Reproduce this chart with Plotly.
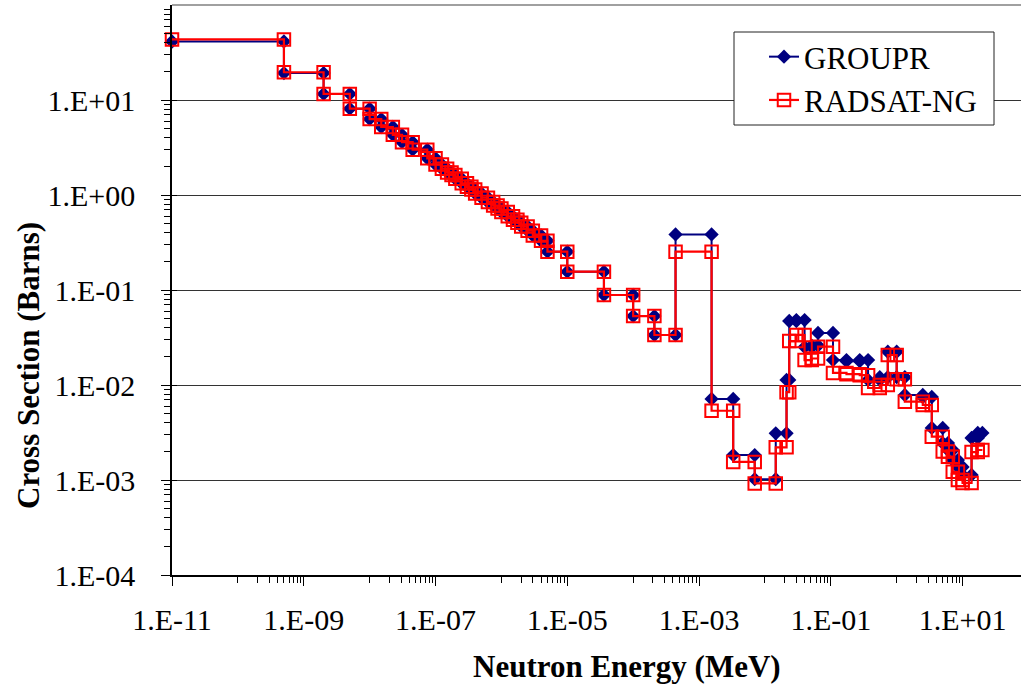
import plotly.graph_objects as go

# Energy group boundaries (MeV) shared by both processed libraries
energy_bounds = [
    1e-11, 5e-10, 2e-9, 5e-9, 1e-8, 1.5e-8, 2.25e-8, 3.1e-8, 4.5e-8, 7.5e-8,
    1e-7, 1.25e-7, 1.5e-7, 1.75e-7, 2e-7, 2.5e-7, 3e-7, 3.5e-7, 4e-7, 5e-7,
    6.25e-7, 7.5e-7, 8.75e-7, 1e-6, 1.25e-6, 1.5e-6, 1.75e-6, 2e-6, 2.5e-6,
    3e-6, 4e-6, 5e-6, 1e-5, 3.6e-5, 1e-4, 2.1e-4, 4.4e-4, 1.55e-3, 3.3e-3,
    7e-3, 1.46e-2, 2.13e-2, 2.34e-2, 3.0e-2, 4.0e-2, 5.15e-2, 6.4e-2, 0.108,
    0.173, 0.275, 0.368, 0.554, 0.733, 1.0, 1.33, 2.49, 3.41, 5.0, 6.0, 7.1,
    8.5, 10.0, 13.7, 17.0, 20.0,
]

# Group-averaged cross sections (barns), one value per group
groupr_xs = [
    41.3, 19.2, 11.6, 8.1, 6.3, 5.2, 4.3, 3.6, 3.0, 2.43,
    2.09, 1.89, 1.73, 1.62, 1.48, 1.33, 1.22, 1.14, 1.04, 0.935,
    0.844, 0.775, 0.721, 0.661, 0.597, 0.548, 0.509, 0.467, 0.421, 0.375,
    0.330, 0.253, 0.156, 0.0886, 0.0532, 0.0336, 0.385, 0.00713, 0.00183,
    0.00102, 0.0031, 0.0113, 0.0472, 0.0483, 0.0251, 0.026, 0.0353, 0.0183,
    0.0178, 0.0183, 0.0113, 0.0121, 0.0224, 0.0121, 0.00785, 0.00748,
    0.00353, 0.00245, 0.00207, 0.00162, 0.00137, 0.00113, 0.00277, 0.00313,
]

radsat_xs = [
    43.4, 19.6, 11.6, 8.1, 6.3, 5.2, 4.3, 3.6, 3.0, 2.43,
    2.09, 1.89, 1.73, 1.62, 1.48, 1.33, 1.22, 1.14, 1.04, 0.935,
    0.844, 0.775, 0.721, 0.661, 0.597, 0.548, 0.509, 0.467, 0.421, 0.375,
    0.330, 0.253, 0.156, 0.0886, 0.0532, 0.0336, 0.253, 0.00536, 0.00155,
    0.00092, 0.00221, 0.0084, 0.029, 0.0336, 0.0183, 0.019, 0.0253, 0.0134,
    0.013, 0.0127, 0.0093, 0.0100, 0.0207, 0.0115, 0.00667, 0.00616,
    0.00286, 0.00199, 0.00176, 0.00122, 0.00100, 0.00093, 0.00197, 0.00207,
]

x_tick_vals = [1e-11, 1e-9, 1e-7, 1e-5, 1e-3, 1e-1, 1e1]
x_tick_text = ["1.E-11", "1.E-09", "1.E-07", "1.E-05", "1.E-03", "1.E-01", "1.E+01"]
y_tick_vals = [1e-4, 1e-3, 1e-2, 1e-1, 1e0, 1e1]
y_tick_text = ["1.E-04", "1.E-03", "1.E-02", "1.E-01", "1.E+00", "1.E+01"]


def step_points(bounds, values):
    """Each group drawn flat from its lower to its upper boundary."""
    xs, ys = [], []
    for lo, hi, v in zip(bounds[:-1], bounds[1:], values):
        xs += [lo, hi]
        ys += [v, v]
    return xs, ys


gx, gy = step_points(energy_bounds, groupr_xs)
rx, ry = step_points(energy_bounds, radsat_xs)

# minor ticks: 1..9 within every other decade on x, 2..9 in every decade on y
x_minor = [m * 10.0 ** e for e in range(-10, 1, 2) for m in range(1, 10)]
y_minor = [m * 10.0 ** e for e in range(-4, 2) for m in range(2, 10)]

FONT = "Liberation Serif"

fig = go.Figure()
fig.add_trace(go.Scatter(
    x=gx, y=gy, name="GROUPR", mode="lines+markers",
    line=dict(color="#000080", width=2),
    marker=dict(symbol="diamond", size=11, color="#000080"),
    cliponaxis=False,
))
fig.add_trace(go.Scatter(
    x=rx, y=ry, name="RADSAT-NG", mode="lines+markers",
    line=dict(color="#FF0000", width=2.2),
    marker=dict(symbol="square-open", size=12.5, color="#FF0000",
                line=dict(width=2, color="#FF0000")),
    cliponaxis=False,
))

# plot area spans x pixels 172..1021 and y pixels 5..575
L, R, T, B = 172, 0, 5, 116
W, H = 1021, 691
pw, ph = W - L - R, H - T - B
decade = 65.88
log_x_range = [-11, -11 + pw / decade]


def px_x(px):
    return (px - L) / pw


def px_y(py):
    return (H - B - py) / ph


fig.update_layout(
    width=W, height=H,
    margin=dict(l=L, r=R, t=T, b=B, pad=0),
    paper_bgcolor="white", plot_bgcolor="white",
    font=dict(family=FONT, color="black", size=30),
    showlegend=True,
    legend=dict(
        x=px_x(764), y=px_y(30), xanchor="left", yanchor="top",
        bgcolor="rgba(0,0,0,0)", borderwidth=0,
        font=dict(family=FONT, size=31, color="black"),
        itemwidth=30, tracegroupgap=0,
    ),
    xaxis=dict(
        type="log", range=log_x_range,
        showgrid=False, zeroline=False,
        showline=True, linecolor="black", linewidth=1.5,
        tickmode="array", tickvals=x_tick_vals, ticktext=x_tick_text,
        ticks="outside", ticklen=9, tickwidth=1, tickcolor="black",
        ticklabelstandoff=8,
        tickfont=dict(family=FONT, size=30, color="black"),
        minor=dict(tickmode="array", tickvals=x_minor, ticks="outside",
                   ticklen=6, tickwidth=1, tickcolor="black", showgrid=False),
    ),
    yaxis=dict(
        type="log", range=[-4, 2],
        showgrid=True, gridcolor="#333333", gridwidth=1, zeroline=False,
        showline=True, linecolor="black", linewidth=1.5,
        tickmode="array", tickvals=y_tick_vals, ticktext=y_tick_text,
        ticks="outside", ticklen=9, tickwidth=1, tickcolor="black",
        ticklabelstandoff=20,
        tickfont=dict(family=FONT, size=30, color="black"),
        minor=dict(tickmode="array", tickvals=y_minor, ticks="outside",
                   ticklen=6, tickwidth=1, tickcolor="black", showgrid=False),
    ),
    # inward half of the crossing major ticks on the value axis
    yaxis2=dict(
        type="log", range=[-4, 2], overlaying="y", side="left",
        showgrid=False, zeroline=False, showline=False,
        tickmode="array", tickvals=y_tick_vals, showticklabels=False,
        ticks="inside", ticklen=5, tickwidth=1, tickcolor="black",
    ),
    shapes=[
        dict(type="line", xref="paper", yref="paper", x0=0, x1=1, y0=1, y1=1,
             line=dict(color="#808080", width=1.5), layer="above"),
        dict(type="rect", xref="paper", yref="paper",
             x0=px_x(734), x1=px_x(994), y0=px_y(125), y1=px_y(32),
             fillcolor="white", line=dict(color="#222222", width=1), layer="above"),
    ],
    annotations=[
        dict(text="<b>Cross Section (Barns)</b>", textangle=-90,
             xref="paper", yref="paper", x=px_x(28), y=px_y(366),
             xanchor="center", yanchor="middle", showarrow=False,
             font=dict(family=FONT, size=31, color="black")),
        dict(text="<b>Neutron Energy (MeV)</b>",
             xref="paper", yref="paper", x=px_x(627), y=px_y(666),
             xanchor="center", yanchor="middle", showarrow=False,
             font=dict(family=FONT, size=31, color="black")),
    ],
)

# invisible trace that keeps the overlay axis active
fig.add_trace(go.Scatter(x=[None], y=[None], yaxis="y2", showlegend=False,
                         hoverinfo="skip"))

fig.write_html("out.html", config=dict(displayModeBar=False))
